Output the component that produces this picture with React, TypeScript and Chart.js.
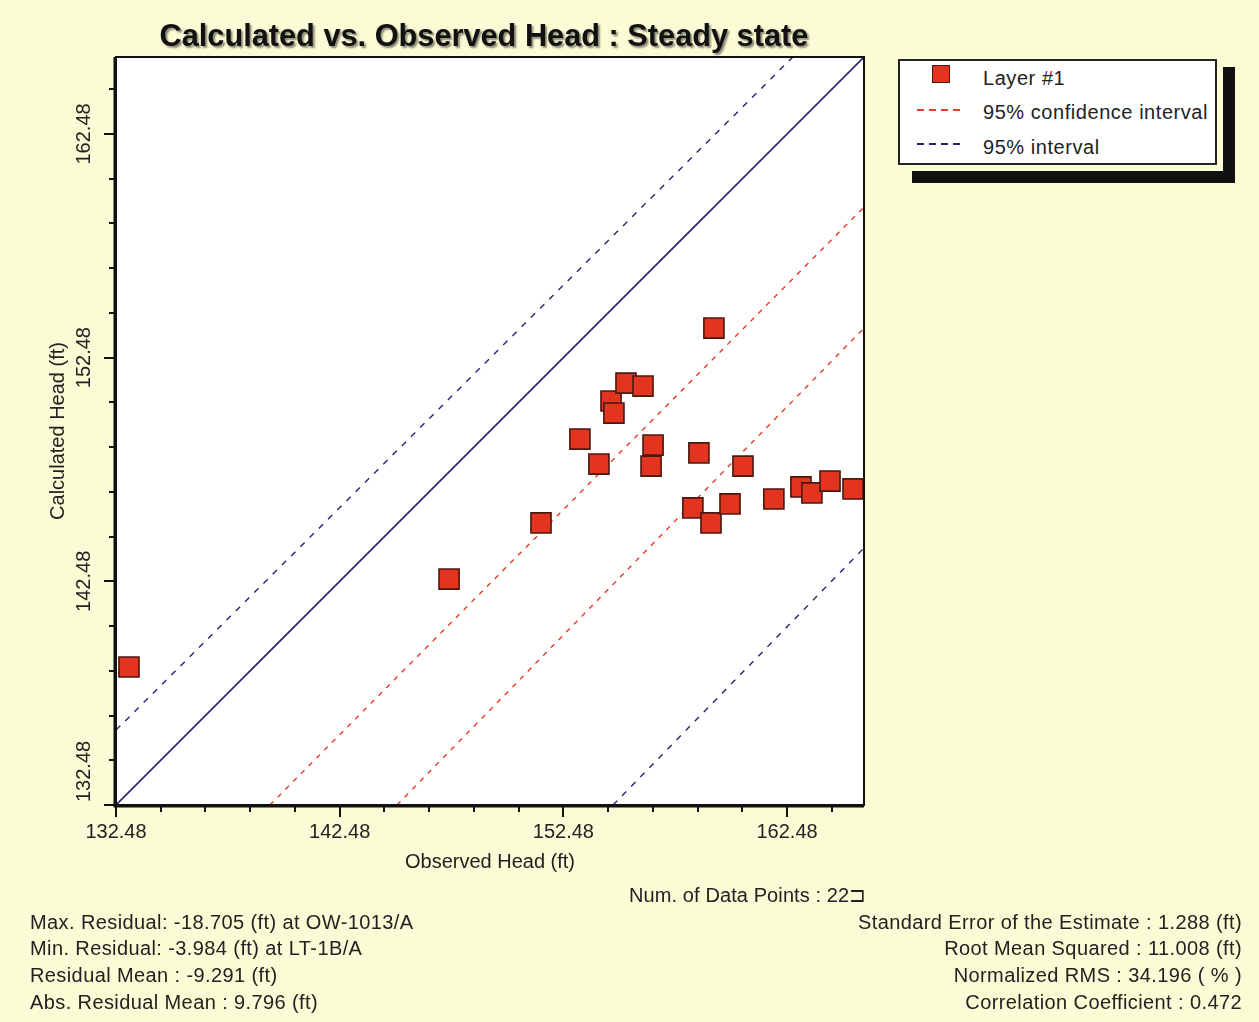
import React, { useEffect, useRef } from "react";
import { Chart, registerables } from "chart.js";

Chart.register(...registerables);

// ---- data ----
const observedHead = [133.06, 147.37, 151.48, 153.22, 154.07, 154.61, 154.74, 155.28, 156.04, 156.49, 156.40, 158.54, 158.27, 159.21, 159.08, 159.93, 160.51, 161.89, 163.10, 163.59, 164.40, 165.43];
const calculatedHead = [138.65, 142.58, 145.09, 148.84, 147.72, 150.54, 150.00, 151.34, 151.21, 148.57, 147.63, 148.22, 145.76, 153.80, 145.09, 145.94, 147.63, 146.16, 146.70, 146.43, 146.96, 146.61];

const oneToOneX = [132.48, 165.92];
const oneToOneY = [132.48, 165.92];
const confUpperX = [139.36, 165.92];
const confUpperY = [132.48, 159.21];
const confLowerX = [145.04, 165.92];
const confLowerY = [132.48, 153.8];
const predUpperX = [132.48, 162.74];
const predUpperY = [135.83, 165.92];
const predLowerX = [154.7, 165.92];
const predLowerY = [132.48, 143.97];

const axisMin = 132.48;
const axisMax = 165.92;
const majorTicks = [132.48, 142.48, 152.48, 162.48];
const minorTicks = [134.48, 136.48, 138.48, 140.48, 144.48, 146.48, 148.48, 150.48, 154.48, 156.48, 158.48, 160.48, 164.48];

const titleText = "Calculated vs. Observed Head : Steady state";
const xTitle = "Observed Head (ft)";
const yTitle = "Calculated Head (ft)";
const legendLabels = ["Layer #1", "95% confidence interval", "95% interval"];
const statsLeft = [
  "Max. Residual: -18.705 (ft) at OW-1013/A",
  "Min. Residual: -3.984 (ft) at LT-1B/A",
  "Residual Mean : -9.291 (ft)",
  "Abs. Residual Mean : 9.796 (ft)",
];
const statsCount = "Num. of Data Points : 22\u2290";
const statsRight = [
  "Standard Error of the Estimate : 1.288 (ft)",
  "Root Mean Squared : 11.008 (ft)",
  "Normalized RMS : 34.196 ( % )",
  "Correlation Coefficient : 0.472",
];

const FONT = "'Liberation Sans', Arial, sans-serif";
const TEXT = "#222";
const BG = "#fbfbd6";
const RED = "#e3341f";
const NAVY = "#24247a";
const DASHRED = "#e83a2a";

const toPts = (xs: number[], ys: number[]) => xs.map((x, i) => ({ x, y: ys[i] }));

const framePlugin = {
  id: "frameTicks",
  beforeDraw(chart: any) {
    const { ctx, chartArea } = chart;
    const { left, top, right, bottom } = chartArea;
    ctx.save();
    ctx.fillStyle = "#ffffff";
    ctx.fillRect(left, top, right - left, bottom - top);
    ctx.restore();
  },
  afterDraw(chart: any) {
    const { ctx, chartArea, scales } = chart;
    const { left, top, right, bottom } = chartArea;
    ctx.save();
    ctx.strokeStyle = "#111";
    ctx.lineWidth = 2;
    ctx.strokeRect(left, top, right - left, bottom - top);
    ctx.lineWidth = 3;
    ctx.beginPath();
    ctx.moveTo(left - 1, top);
    ctx.lineTo(left - 1, bottom + 1);
    ctx.lineTo(right, bottom + 1);
    ctx.stroke();
    // tick marks
    ctx.lineWidth = 2;
    const xs = scales.x;
    const ys = scales.y;
    const drawX = (v: number, len: number) => {
      const px = Math.round(xs.getPixelForValue(v));
      ctx.beginPath();
      ctx.moveTo(px, bottom + 2);
      ctx.lineTo(px, bottom + 2 + len);
      ctx.stroke();
    };
    const drawY = (v: number, len: number) => {
      const py = Math.round(ys.getPixelForValue(v));
      ctx.beginPath();
      ctx.moveTo(left - 2, py);
      ctx.lineTo(left - 2 - len, py);
      ctx.stroke();
    };
    majorTicks.forEach((v) => { drawX(v, 10); drawY(v, 10); });
    minorTicks.forEach((v) => { drawX(v, 5); drawY(v, 5); });
    // rotated y tick labels
    ctx.fillStyle = TEXT;
    ctx.font = `20px ${FONT}`;
    ctx.textAlign = "center";
    ctx.textBaseline = "middle";
    majorTicks.forEach((v) => {
      const label = v.toFixed(2);
      const w = ctx.measureText(label).width;
      const py = ys.getPixelForValue(v);
      const cy = Math.min(py, bottom - 3 - w / 2);
      ctx.save();
      ctx.translate(left - 32, cy);
      ctx.rotate(-Math.PI / 2);
      ctx.fillText(label, 0, 0);
      ctx.restore();
    });
    ctx.restore();
  },
};

export default function App() {
  const canvasRef = useRef<HTMLCanvasElement | null>(null);

  useEffect(() => {
    const canvas = canvasRef.current;
    if (!canvas) return;
    const lineDs = (label: string, xs: number[], ys: number[], color: string, dash: number[], width: number) => ({
      type: "scatter" as const,
      label,
      data: toPts(xs, ys),
      showLine: true,
      borderColor: color,
      borderWidth: width,
      borderDash: dash,
      pointRadius: 0,
      fill: false,
    });
    const chart = new Chart(canvas, {
      type: "scatter",
      data: {
        datasets: [
          {
            label: legendLabels[0],
            data: toPts(observedHead, calculatedHead),
            pointStyle: "rect",
            pointRadius: 14.2,
            pointBackgroundColor: RED,
            pointBorderColor: "#4a1810",
            pointBorderWidth: 1.6,
            showLine: false,
          } as any,
          lineDs("1:1", oneToOneX, oneToOneY, NAVY, [], 1.6),
          lineDs(legendLabels[1], confUpperX, confUpperY, DASHRED, [5, 6], 1.4),
          lineDs(legendLabels[1] + " lower", confLowerX, confLowerY, DASHRED, [5, 6], 1.4),
          lineDs(legendLabels[2], predUpperX, predUpperY, NAVY, [6, 7], 1.4),
          lineDs(legendLabels[2] + " lower", predLowerX, predLowerY, NAVY, [6, 7], 1.4),
        ],
      },
      options: {
        animation: false,
        responsive: false,
        devicePixelRatio: 1,
        layout: { padding: { top: 57, right: 395, bottom: 137, left: 0 } },
        plugins: {
          legend: { display: false },
          tooltip: { enabled: false },
          title: { display: false },
        },
        scales: {
          x: {
            type: "linear",
            min: axisMin,
            max: axisMax,
            afterFit: (s: any) => { s.height = 80; },
            afterBuildTicks: (s: any) => { s.ticks = majorTicks.map((value) => ({ value })); },
            grid: { display: false, drawTicks: false },
            border: { display: false },
            ticks: {
              autoSkip: false,
              maxRotation: 0,
              padding: 15,
              color: TEXT,
              font: { family: FONT, size: 20 },
              callback: (v: any) => Number(v).toFixed(2),
            },
            title: {
              display: true,
              text: xTitle,
              color: TEXT,
              font: { family: FONT, size: 20 },
              padding: { top: 0, bottom: 11 },
            },
          },
          y: {
            type: "linear",
            min: axisMin,
            max: axisMax,
            afterFit: (s: any) => { s.width = 116; },
            afterBuildTicks: (s: any) => { s.ticks = majorTicks.map((value) => ({ value })); },
            grid: { display: false, drawTicks: false },
            border: { display: false },
            ticks: { display: false },
            title: {
              display: true,
              text: yTitle,
              color: TEXT,
              font: { family: FONT, size: 20 },
              padding: { top: 46, bottom: 0 },
            },
          },
        },
      } as any,
      plugins: [framePlugin],
    });
    return () => chart.destroy();
  }, []);

  const textBase: React.CSSProperties = {
    position: "absolute",
    fontFamily: FONT,
    fontSize: 20,
    color: TEXT,
    whiteSpace: "nowrap",
    lineHeight: "26.7px",
    letterSpacing: "0.4px",
  };
  const legendText: React.CSSProperties = { ...textBase, letterSpacing: "0.55px" };

  return (
    <div style={{ position: "fixed", left: 0, top: 0, width: 1259, height: 1022, background: BG, overflow: "hidden" }}>
      <canvas ref={canvasRef} width={1259} height={1022} style={{ position: "absolute", left: 0, top: 0, width: 1259, height: 1022 }} />
      <div
        style={{
          position: "absolute",
          left: 84,
          top: 17,
          width: 800,
          textAlign: "center",
          fontFamily: FONT,
          fontWeight: "bold",
          fontSize: 32,
          lineHeight: "36px",
          color: "#111",
          textShadow: "2px 2px 2px rgba(0,0,0,0.45)",
          whiteSpace: "nowrap",
        }}
      >
        <span style={{ display: "inline-block", transform: "scaleX(0.96)", transformOrigin: "center" }}>{titleText}</span>
      </div>

      {/* legend */}
      <div style={{ position: "absolute", left: 1223, top: 67, width: 12, height: 116, background: "#111" }} />
      <div style={{ position: "absolute", left: 912, top: 171, width: 323, height: 12, background: "#111" }} />
      <div style={{ position: "absolute", left: 898, top: 59, width: 315, height: 102, background: "#fff", border: "2px solid #222" }} />
      <div style={{ position: "absolute", left: 932, top: 65, width: 16, height: 16, background: RED, border: "1.5px solid #4a1810" }} />
      <div style={{ position: "absolute", left: 917, top: 109, width: 44, height: 2, background: `repeating-linear-gradient(90deg, ${DASHRED} 0 7px, transparent 7px 12px)` }} />
      <div style={{ position: "absolute", left: 917, top: 143, width: 44, height: 2, background: `repeating-linear-gradient(90deg, ${NAVY} 0 7px, transparent 7px 12px)` }} />
      <div style={{ ...legendText, left: 983, top: 65 }}>{legendLabels[0]}</div>
      <div style={{ ...legendText, left: 983, top: 99 }}>{legendLabels[1]}</div>
      <div style={{ ...legendText, left: 983, top: 134 }}>{legendLabels[2]}</div>

      {/* stats */}
      <div style={{ ...textBase, letterSpacing: "0.1px", left: 629, top: 882 }}>{statsCount}</div>
      <div style={{ ...textBase, left: 30, top: 908.6 }}>
        {statsLeft.map((s) => (<div key={s}>{s}</div>))}
      </div>
      <div style={{ ...textBase, right: 17, top: 908.6, textAlign: "right" }}>
        {statsRight.map((s) => (<div key={s}>{s}</div>))}
      </div>
    </div>
  );
}
